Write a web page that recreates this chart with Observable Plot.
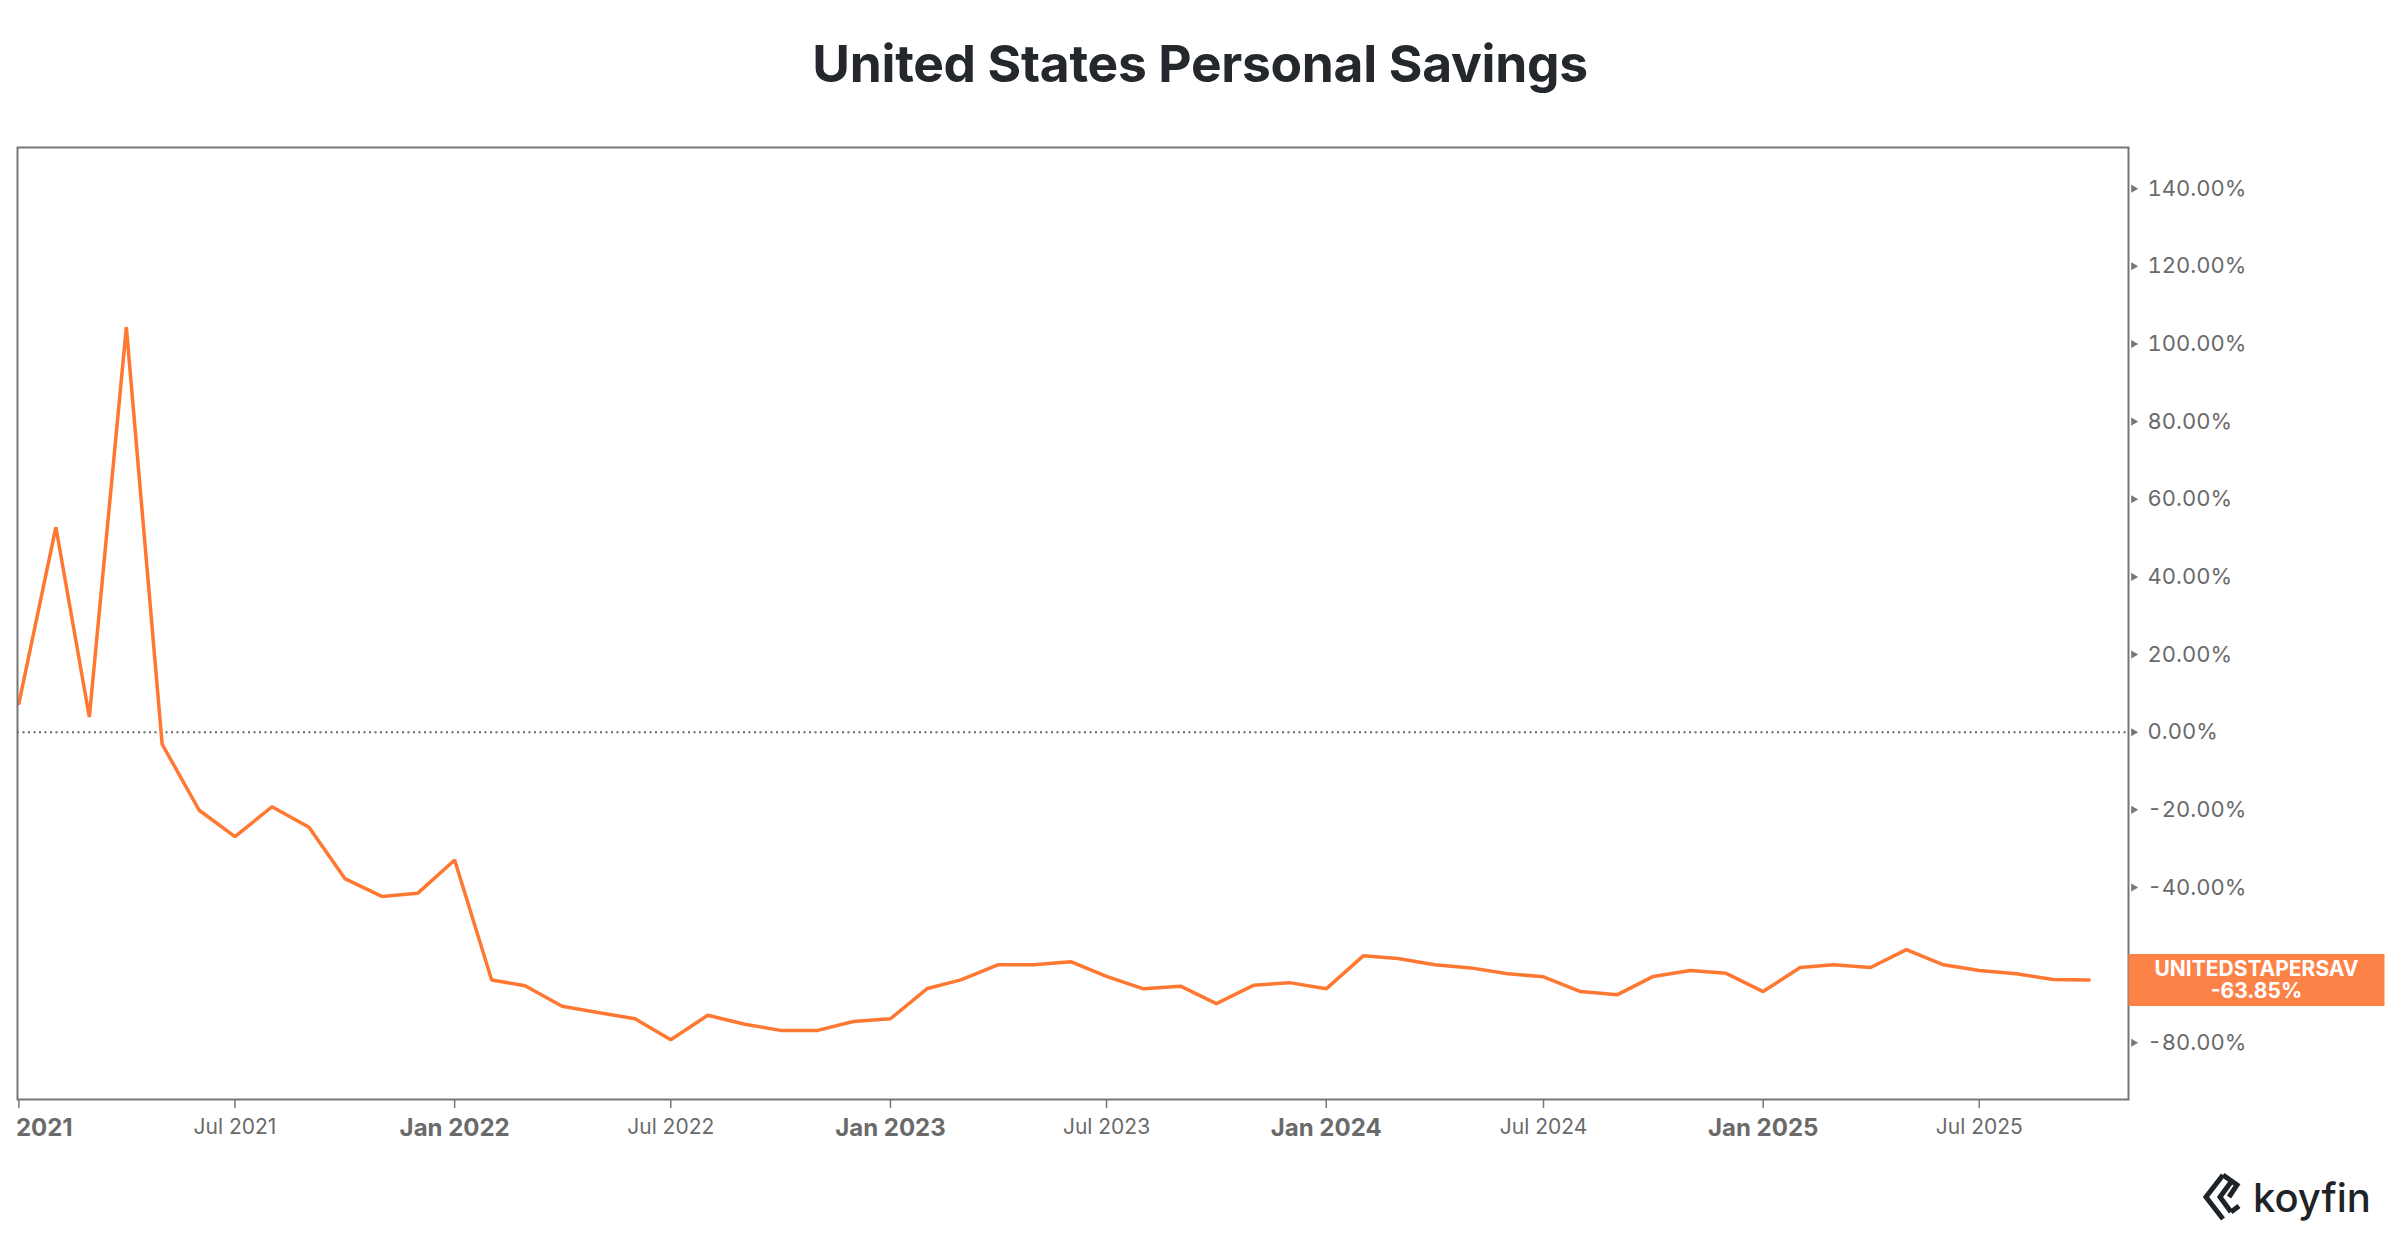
<!DOCTYPE html>
<html>
<head>
<meta charset="utf-8">
<script src="https://cdn.jsdelivr.net/npm/d3@7"></script>
<script src="https://cdn.jsdelivr.net/npm/@observablehq/plot@0.6"></script>
<style>
  html, body { margin: 0; padding: 0; background: #ffffff; }
  body { width: 2400px; height: 1240px; overflow: hidden; position: relative; font-family: Inter, "Noto Sans", sans-serif; }
  #title { height: 120px; line-height: 120px; text-align: center; font-size: 51.5px; font-weight: 700; color: #24282d; position: relative; top: 3px; letter-spacing: -0.3px; }
  #chart { height: 1040px; }
  #footer { height: 80px; position: relative; }
  #logo { position: absolute; left: 2203px; top: 12px; display: flex; align-items: center; gap: 8px; color: #1e2328; font-size: 40px; font-weight: 500; }
</style>
</head>
<body>
<div id="title">United States Personal Savings</div>
<div id="chart"></div>
<div id="footer">
  <div id="logo">
    <svg width="42" height="50" viewBox="0 0 42 50"><path d="M20 3 L3 25 L20 47 M28 10 L17 25 L28 40 M20 3 L34 13 L26 25 M28 40 L36 34" fill="none" stroke="#1e2328" stroke-width="5" stroke-linejoin="miter"/></svg>
    <span>koyfin</span>
  </div>
</div>
<script>
const months = [
  "2021-01","2021-02","2021-03","2021-04","2021-05","2021-06","2021-07","2021-08","2021-09","2021-10","2021-11","2021-12",
  "2022-01","2022-02","2022-03","2022-04","2022-05","2022-06","2022-07","2022-08","2022-09","2022-10","2022-11","2022-12",
  "2023-01","2023-02","2023-03","2023-04","2023-05","2023-06","2023-07","2023-08","2023-09","2023-10","2023-11","2023-12",
  "2024-01","2024-02","2024-03","2024-04","2024-05","2024-06","2024-07","2024-08","2024-09","2024-10","2024-11","2024-12",
  "2025-01","2025-02","2025-03","2025-04","2025-05","2025-06","2025-07","2025-08","2025-09","2025-10"
];
const savingsChange = [
  7.4, 52.8, 3.9, 104.3, -3.1, -20.1, -26.9, -19.2, -24.5, -37.7, -42.3, -41.5,
  -32.9, -63.8, -65.3, -70.6, -72.2, -73.8, -79.2, -72.9, -75.2, -76.8, -76.8, -74.5,
  -73.8, -66.0, -63.8, -59.9, -59.9, -59.1, -62.9, -66.1, -65.4, -69.9, -65.2, -64.5,
  -66.1, -57.6, -58.3, -59.9, -60.7, -62.2, -63.0, -66.8, -67.6, -62.9, -61.4, -62.1,
  -66.8, -60.6, -59.9, -60.6, -56.0, -59.9, -61.4, -62.2, -63.7, -63.85
];
const seriesName = "UNITEDSTAPERSAV";
const xTickDates = ["2021-01","2021-07","2022-01","2022-07","2023-01","2023-07","2024-01","2024-07","2025-01","2025-07"];
const xTickLabels = ["2021","Jul 2021","Jan 2022","Jul 2022","Jan 2023","Jul 2023","Jan 2024","Jul 2024","Jan 2025","Jul 2025"];
const yTicks = [-80, -60, -40, -20, 0, 20, 40, 60, 80, 100, 120, 140];
const xDomain = ["2020-12-30T20:00Z", "2025-11-03T00:00Z"];
const yDomain = [-94.6, 150.6];

const parse = d3.utcParse("%Y-%m");
const data = months.map((m, i) => ({date: parse(m), value: savingsChange[i]}));
const ticks = xTickDates.map((d, i) => ({date: parse(d), label: xTickLabels[i], major: d.endsWith("-01")}));
const last = data[data.length - 1];
const pct = v => v.toFixed(2) + "%";

const lineColor = "#ff7832";
const boxColor = "#fd8248";
const grey = "#6a6a6a";

const labelBox = {
  draw(ctx) {
    ctx.moveTo(0, -26); ctx.lineTo(256, -26); ctx.lineTo(256, 26); ctx.lineTo(0, 26); ctx.closePath();
  }
};

const plot = Plot.plot({
  width: 2400,
  height: 1040,
  marginTop: 27,
  marginBottom: 61,
  marginLeft: 17,
  marginRight: 272,
  style: {fontFamily: "Inter, 'Noto Sans', sans-serif", color: grey, background: "#ffffff"},
  x: {type: "utc", domain: xDomain.map(d => new Date(d))},
  y: {domain: yDomain},
  marks: [
    Plot.ruleY([0], {stroke: "#666", strokeWidth: 2, strokeDasharray: "2,3.5"}),
    Plot.axisX({ticks: ticks.map(d => d.date), tickSize: 9, tickFormat: () => "", stroke: "#777", strokeWidth: 1.5, label: null}),
    Plot.text(ticks.filter((d, i) => i === 0), {x: "date", text: "label", frameAnchor: "bottom", dy: 29, dx: -3, textAnchor: "start", lineAnchor: "middle", fontSize: 24, fontWeight: 700, fill: grey}),
    Plot.text(ticks.filter((d, i) => i > 0 && d.major), {x: "date", text: "label", frameAnchor: "bottom", dy: 29, textAnchor: "middle", lineAnchor: "middle", fontSize: 24, fontWeight: 700, fill: grey}),
    Plot.text(ticks.filter(d => !d.major), {x: "date", text: "label", frameAnchor: "bottom", dy: 28, textAnchor: "middle", lineAnchor: "middle", fontSize: 21, fontWeight: 400, fill: grey}),
    Plot.axisY({anchor: "right", ticks: yTicks, tickSize: 0, tickPadding: 19, tickFormat: pct, fontSize: 22, fill: grey, label: null}),
    Plot.dot(yTicks, {y: d => d, frameAnchor: "right", dx: 5, symbol: "triangle", rotate: 90, r: 3, fill: "#777", stroke: "none"}),
    Plot.lineY(data, {x: "date", y: "value", stroke: lineColor, strokeWidth: 3.5, strokeLinejoin: "miter"}),
    Plot.frame({stroke: "#777", strokeWidth: 2}),
    Plot.dot([last], {y: "value", frameAnchor: "right", symbol: labelBox, fill: boxColor, stroke: "none"}),
    Plot.text([last], {y: "value", frameAnchor: "right", dx: 128, text: d => seriesName + "\n" + pct(d.value), textAnchor: "middle", lineAnchor: "middle", lineHeight: 1.02, fontSize: 21, fontWeight: 700, fill: "#ffffff"})
  ]
});
document.getElementById("chart").appendChild(plot);
</script>
</body>
</html>
